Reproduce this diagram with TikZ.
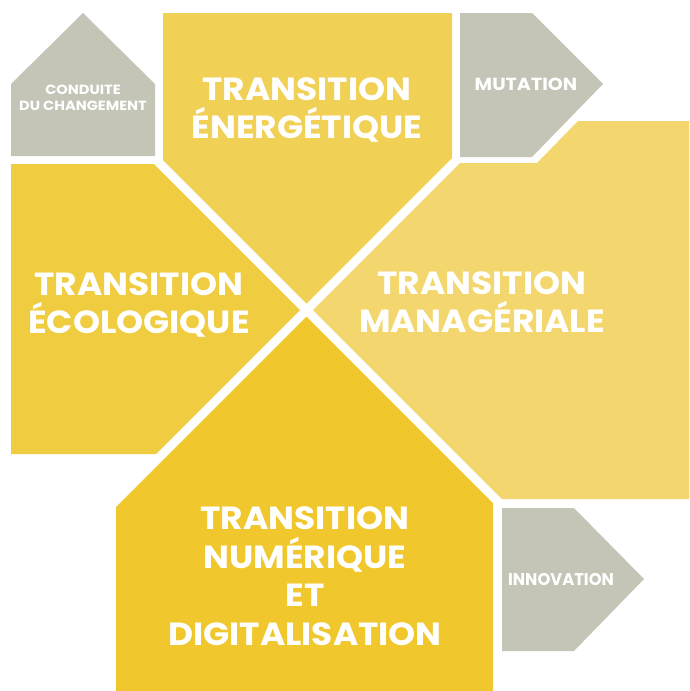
\documentclass[tikz,border=0pt]{standalone}
\usepackage{fontspec}
\setmainfont{Poppins}
\newfontfamily\bigf{Poppins}[FakeStretch=1.075]
\newfontfamily\mutf{Poppins}[FakeStretch=1.09]
\newfontfamily\innof{Poppins}[FakeStretch=0.96]
\newfontfamily\tinyf{Poppins}[FakeStretch=1.10]
\definecolor{ytop}{RGB}{241,208,86}
\definecolor{yleft}{RGB}{240,204,64}
\definecolor{yright}{RGB}{243,215,110}
\definecolor{ybot}{RGB}{240,200,45}
\definecolor{greyc}{RGB}{196,197,183}
\tikzset{
  bigtxt/.style={text=white, align=center, font=\bigf\bfseries\fontsize{32}{38.5}\selectfont, inner sep=0pt},
  muttxt/.style={text=white, align=center, font=\mutf\bfseries\fontsize{17.5}{17}\selectfont, inner sep=0pt},
  innotxt/.style={text=white, align=center, font=\innof\bfseries\fontsize{17}{17}\selectfont, inner sep=0pt},
  tinytxt/.style={text=white, align=center, font=\tinyf\bfseries\fontsize{13.3}{16}\selectfont, inner sep=0pt}
}
\begin{document}
\begin{tikzpicture}[x=1pt,y=-1pt]
\useasboundingbox (0,0) rectangle (689,691);
% grey shapes
\fill[greyc] (11,156) -- (155,156) -- (155,84) -- (83,13) -- (11,84) -- cycle;
\fill[greyc] (460,13) -- (532,13) -- (603,84) -- (532,157) -- (460,157) -- cycle;
\fill[greyc] (502,508) -- (574,508) -- (644,579) -- (574,651) -- (502,651) -- cycle;
% yellow quadrants
\fill[ytop] (163,13) -- (452,13) -- (452,158) -- (306.5,303.5) -- (163,160) -- cycle;
\fill[yleft] (11,164) -- (154,164) -- (300,310) -- (156,454) -- (11,454) -- cycle;
\fill[yright] (460,163) -- (537,163) -- (578,121) -- (689,121) -- (689,499) -- (502,499) -- (313,310) -- cycle;
\fill[ybot] (306.5,316.5) -- (493,503) -- (493,691) -- (116,691) -- (116,507) -- cycle;
% texts
\node[bigtxt] (ener) at (307,110) {TRANSITION\\ÉNERGÉTIQUE};
\node[bigtxt] (eco) at (139,305) {TRANSITION\\ÉCOLOGIQUE};
\node[bigtxt] (mana) at (482,302) {TRANSITION\\MANAGÉRIALE};
\node[bigtxt] (num) at (305,576) {TRANSITION\\NUMÉRIQUE\\ET\\DIGITALISATION};
\node[tinytxt] (cond) at (83,98) {CONDUITE\\DU CHANGEMENT};
\node[muttxt] (mut) at (526,84) {MUTATION};
\node[innotxt] (inno) at (561,579) {INNOVATION};
\end{tikzpicture}
\end{document}
